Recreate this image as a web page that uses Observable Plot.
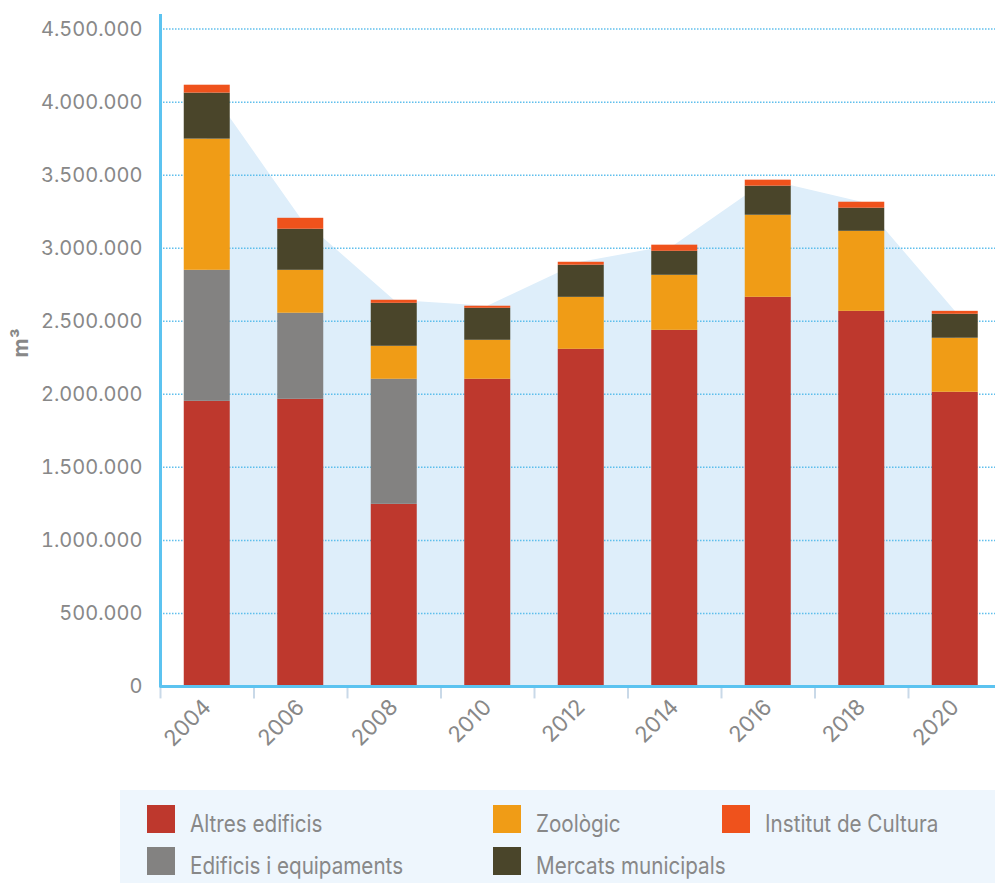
<!DOCTYPE html>
<html><head><meta charset="utf-8">
<script src="https://cdn.jsdelivr.net/npm/d3@7"></script>
<script src="https://cdn.jsdelivr.net/npm/@observablehq/plot@0.6"></script>
<style>
body{margin:0;background:#fff;font-family:Inter,sans-serif;}
#chart{position:relative;width:995px;height:883px;overflow:hidden;}
#chart svg{position:absolute;left:0;top:0;}
#legend{position:absolute;left:120px;top:790px;width:875px;height:93px;background:#eef6fd;}
.item{position:absolute;display:flex;align-items:flex-end;height:28px;}
.sw{width:28px;height:28px;margin-right:15px;flex:none;}
.lab{font-size:24px;color:#888;line-height:24px;margin-bottom:-3px;white-space:nowrap;transform:scaleX(0.86);transform-origin:left bottom;}
</style></head><body><div id="chart"></div>
<script>
const years = ["2004","2006","2008","2010","2012","2014","2016","2018","2020"];
const seriesNames = ["Altres edificis","Edificis i equipaments","Zoològic","Mercats municipals","Institut de Cultura"];
const seriesColors = ["#be382d","#838281","#f09c16","#4a452a","#ef521c"];
const altres   = [1952000,1966000,1247000,2103000,2308000,2438000,2664000,2568000,2014000];
const edificis = [ 897000, 589000, 856000,      0,      0,      0,      0,      0,      0];
const zoologic = [ 898000, 294000, 226000, 267000, 356000, 377000, 562000, 548000, 370000];
const mercats  = [ 315000, 281000, 294000, 219000, 220000, 164000, 199000, 158000, 164000];
const institut = [  54000,  75000,  21000,  14000,  20000,  42000,  41000,  41000,  20000];
const yTicks = [0,500000,1000000,1500000,2000000,2500000,3000000,3500000,4000000,4500000];

const seriesValues = [altres, edificis, zoologic, mercats, institut];
const table = [];
years.forEach((yr, i) => {
  seriesNames.forEach((s, j) => table.push({year: yr, series: s, value: seriesValues[j][i]}));
});
const totals = years.map((yr, i) => ({year: yr, total: d3.sum(seriesValues, v => v[i])}));

const fmt = d => d3.format(",")(d).replace(/,/g, ".");
const half = 46.75;

const plot = Plot.plot({
  width: 995,
  height: 780,
  marginLeft: 160,
  marginRight: 0,
  marginTop: 14,
  marginBottom: 94,
  style: {fontFamily: "Inter, sans-serif", background: "transparent"},
  x: {domain: years, range: [160, 1001.5], paddingInner: 0.508, paddingOuter: 0.254, round: false, label: null},
  y: {domain: [0, 4600000], label: null},
  color: {domain: seriesNames, range: seriesColors},
  marks: [
    Plot.areaY(totals, {x: "year", y: "total", fill: "#deeefa"}),
    Plot.gridY(yTicks.slice(1), {stroke: "#4fb8ea", strokeOpacity: 0.9, strokeWidth: 1.5, strokeDasharray: "1.5,1.5"}),
    Plot.barY(table, {x: "year", y: "value", fill: "series", order: seriesNames}),
    Plot.ruleX(years, {x: d => d, dx: -half, y1: 0, y2: -85000, stroke: "#c9d9e8", strokeWidth: 2}),
    Plot.ruleY([0], {stroke: "#5cc3f0", strokeWidth: 3}),
    Plot.ruleX([years[0]], {x: d => d, dx: -half, y1: -10000, y2: 4600000, stroke: "#5cc3f0", strokeWidth: 3}),
    Plot.axisY({ticks: yTicks, tickSize: 0, tickPadding: 18, tickFormat: fmt, fontSize: 20, fill: "#888", label: null}),
    Plot.axisX({tickSize: 0, tickPadding: 17, tickRotate: -45, fontSize: 22, fill: "#888", label: null}),
    Plot.text(["m³"], {frameAnchor: "left", rotate: -90, dx: -139, dy: 7, fontSize: 21, fontWeight: "bold", fill: "#888"})
  ]
});
const chart = document.getElementById("chart");
chart.appendChild(plot);

const legend = document.createElement("div");
legend.id = "legend";
const pos = [[27,15],[27,57],[373,15],[373,57],[602,15]];
seriesNames.forEach((s, j) => {
  const it = document.createElement("div");
  it.className = "item";
  it.style.left = pos[j][0] + "px";
  it.style.top = pos[j][1] + "px";
  const sw = document.createElement("div");
  sw.className = "sw";
  sw.style.background = seriesColors[j];
  const lab = document.createElement("div");
  lab.className = "lab";
  lab.textContent = s;
  it.appendChild(sw); it.appendChild(lab);
  legend.appendChild(it);
});
chart.appendChild(legend);
</script>
</body></html>
